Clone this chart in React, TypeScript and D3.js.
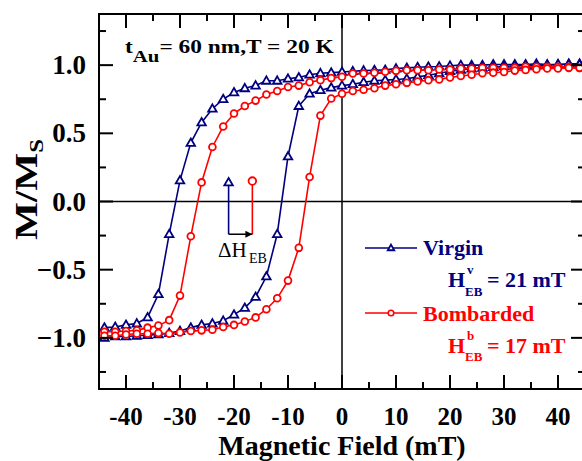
import * as d3 from "d3";
import React from "react";

// magnetic field values (mT), one point every 2 mT
const field = [-44, -42, -40, -38, -36, -34, -32, -30, -28, -26, -24, -22, -20, -18, -16, -14, -12, -10, -8, -6, -4, -2,
  0, 2, 4, 6, 8, 10, 12, 14, 16, 18, 20, 22, 24, 26, 28, 30, 32, 34, 36, 38, 40, 42, 44];

// virgin sample, descending branch (upper)
const virginDown = [-0.925, -0.92, -0.905, -0.895, -0.85, -0.68, -0.24, 0.155, 0.43, 0.58, 0.68, 0.75, 0.8, 0.83, 0.85,
  0.885, 0.885, 0.9, 0.91, 0.93, 0.94, 0.945, 0.95, 0.955, 0.96, 0.963, 0.965, 0.975, 0.98, 0.985, 0.988, 0.99, 0.995,
  1.0, 1.0, 1.0, 1.005, 1.005, 1.005, 1.005, 1.01, 1.005, 1.005, 1.01, 1.01];
// virgin sample, ascending branch (lower)
const virginUp = [-1.0, -0.99, -0.99, -0.985, -0.98, -0.975, -0.965, -0.95, -0.925, -0.905, -0.895, -0.875, -0.83, -0.78,
  -0.7, -0.55, -0.24, 0.33, 0.7, 0.79, 0.816, 0.835, 0.85, 0.86, 0.875, 0.885, 0.89, 0.895, 0.9, 0.914, 0.926, 0.94,
  0.955, 0.965, 0.975, 0.98, 0.985, 0.99, 0.995, 1.0, 1.0, 1.0, 1.005, 1.005, 1.005];
// bombarded sample, descending branch (upper)
const bombDown = [-0.955, -0.955, -0.95, -0.945, -0.925, -0.91, -0.87, -0.69, -0.255, 0.14, 0.4, 0.55, 0.645, 0.7, 0.74,
  0.785, 0.81, 0.84, 0.85, 0.875, 0.89, 0.905, 0.915, 0.939, 0.939, 0.944, 0.951, 0.958, 0.963, 0.963, 0.963, 0.968,
  0.968, 0.975, 0.975, 0.98, 0.98, 0.98, 0.98, 0.988, 0.988, 0.988, 0.988, 0.988, 0.98];
// bombarded sample, ascending branch (lower)
const bombUp = [-0.985, -0.985, -0.975, -0.97, -0.97, -0.965, -0.97, -0.96, -0.95, -0.945, -0.94, -0.92, -0.905, -0.88,
  -0.85, -0.79, -0.71, -0.58, -0.34, 0.18, 0.63, 0.755, 0.79, 0.81, 0.82, 0.83, 0.85, 0.86, 0.87, 0.88, 0.89, 0.895,
  0.91, 0.92, 0.93, 0.94, 0.945, 0.95, 0.96, 0.965, 0.97, 0.975, 0.975, 0.98, 0.98];

const xTicks = [-40, -30, -20, -10, 0, 10, 20, 30, 40];
const xMinor = [-35, -25, -15, -5, 5, 15, 25, 35];
const yTicks = [-1.0, -0.5, 0.0, 0.5, 1.0];
const yMinor = [-1.25, -0.75, -0.25, 0.25, 0.75, 1.25];

// exchange bias markers (field, M)
const ebVirgin = [-21, 0.14];
const ebBomb = [-16.6, 0.15];
const ebArrowY = -0.24;

const NAVY = "#000080";
const RED = "#ff0000";
const FONT = "'Liberation Serif', 'Times New Roman', serif";

const W = 582, H = 461;
const area = { left: 99, right: 585, top: 14, bottom: 389 };

function Triangle({ x, y, s, stroke }: { x: number; y: number; s: number; stroke: string }) {
  const h = s * 0.866;
  const d = `M${x},${y - h * 0.6}L${x + s / 2},${y + h * 0.4}L${x - s / 2},${y + h * 0.4}Z`;
  return <path d={d} fill="white" stroke={stroke} strokeWidth={1.8} strokeLinejoin="miter" />;
}

export default function App() {
  const scX = d3.scaleLinear().domain([-45, 45]).range([area.left, area.right]);
  const scY = d3.scaleLinear().domain([-1.375, 1.375]).range([area.bottom, area.top]);

  const line = d3.line<number>()
    .x((_, i) => scX(field[i]))
    .y(d => scY(d));

  const series = [
    { data: virginDown, color: NAVY, mark: "tri" },
    { data: virginUp, color: NAVY, mark: "tri" },
    { data: bombDown, color: RED, mark: "circ" },
    { data: bombUp, color: RED, mark: "circ" },
  ];

  const tickLong = 14, tickShort = 7;

  return (
    <svg width={W} height={H} style={{ position: "absolute", left: 0, top: 0, background: "white" }}
      fontFamily={FONT}>
      <defs>
        <marker id="arrowHead" viewBox="0 0 10 10" refX="10" refY="5" markerWidth="9" markerHeight="7"
          markerUnits="userSpaceOnUse" orient="auto">
          <path d="M0,0L10,5L0,10Z" fill="black" />
        </marker>
      </defs>

      {/* zero lines */}
      <line x1={area.left} x2={area.right} y1={scY(0)} y2={scY(0)} stroke="black" strokeWidth={1.5} />
      <line x1={scX(0)} x2={scX(0)} y1={area.top} y2={area.bottom} stroke="black" strokeWidth={1.5} />

      {/* curves */}
      {series.map((s, k) => (
        <g key={k}>
          <path d={line(s.data) || ""} fill="none" stroke={s.color} strokeWidth={1.6} />
          {s.data.map((v, i) =>
            s.mark === "tri"
              ? <Triangle key={i} x={scX(field[i])} y={scY(v)} s={8.5} stroke={s.color} />
              : <circle key={i} cx={scX(field[i])} cy={scY(v)} r={3.4} fill="white" stroke={s.color} strokeWidth={1.8} />
          )}
        </g>
      ))}

      {/* exchange bias annotation */}
      <line x1={scX(ebVirgin[0])} x2={scX(ebVirgin[0])} y1={scY(ebVirgin[1])} y2={scY(ebArrowY)} stroke={NAVY} strokeWidth={1.6} />
      <line x1={scX(ebBomb[0])} x2={scX(ebBomb[0])} y1={scY(ebBomb[1])} y2={scY(ebArrowY)} stroke={RED} strokeWidth={1.6} />
      <line x1={scX(ebVirgin[0])} x2={scX(ebBomb[0])} y1={scY(ebArrowY)} y2={scY(ebArrowY)} stroke="black" strokeWidth={1.5}
        markerEnd="url(#arrowHead)" />
      <Triangle x={scX(ebVirgin[0])} y={scY(ebVirgin[1])} s={8.5} stroke={NAVY} />
      <circle cx={scX(ebBomb[0])} cy={scY(ebBomb[1])} r={3.8} fill="white" stroke={RED} strokeWidth={1.8} />
      <text x={218} y={257} fontSize={21}>ΔH</text>
      <text x={249} y={263} fontSize={14}>EB</text>

      {/* frame */}
      <rect x={area.left} y={area.top} width={area.right - area.left} height={area.bottom - area.top}
        fill="none" stroke="black" strokeWidth={2} />

      {/* x ticks */}
      {xTicks.concat(xMinor).map((t, i) => {
        const len = xTicks.includes(t) ? tickLong : tickShort;
        return (
          <g key={"xt" + i}>
            <line x1={scX(t)} x2={scX(t)} y1={area.bottom} y2={area.bottom - len} stroke="black" strokeWidth={2} />
            <line x1={scX(t)} x2={scX(t)} y1={area.top} y2={area.top + len} stroke="black" strokeWidth={2} />
          </g>
        );
      })}
      {yTicks.concat(yMinor).map((t, i) => {
        const len = yTicks.includes(t) ? tickLong : tickShort;
        return (
          <g key={"yt" + i}>
            <line x1={area.left} x2={area.left + len} y1={scY(t)} y2={scY(t)} stroke="black" strokeWidth={2} />
            <line x1={area.right} x2={area.right - len} y1={scY(t)} y2={scY(t)} stroke="black" strokeWidth={2} />
          </g>
        );
      })}

      {/* tick labels */}
      {xTicks.map(t => (
        <text key={"xl" + t} x={scX(t)} y={425} textAnchor="middle" fontSize={25} fontWeight="bold">{t}</text>
      ))}
      {yTicks.map(t => (
        <text key={"yl" + t} x={86} y={scY(t) + 9} textAnchor="end" fontSize={27} fontWeight="bold">
          {d3.format(".1f")(t)}
        </text>
      ))}

      {/* axis titles */}
      <text x={342} y={454.5} textAnchor="middle" fontSize={28} fontWeight="bold">Magnetic Field (mT)</text>
      <text transform="translate(37,240) rotate(-90) scale(1.3,1)" fontSize={31} fontWeight="bold">
        M/M<tspan fontSize={19} dy={6}>S</tspan>
      </text>

      {/* sample annotation */}
      <text transform="translate(125,53) scale(1.3,1)" fontSize={18} fontWeight="bold">
        t<tspan fontSize={16} dy={9}>Au</tspan><tspan dy={-9}>= 60 nm,T = 20 K</tspan>
      </text>

      {/* legend */}
      <line x1={365} x2={417} y1={248} y2={248} stroke={NAVY} strokeWidth={1.6} />
      <Triangle x={391} y={248} s={6.5} stroke={NAVY} />
      <g fontWeight="bold" fill={NAVY}>
        <text x={423} y={255} fontSize={22}>Virgin</text>
        <text x={448} y={287} fontSize={22}>H</text>
        <text x={467} y={274} fontSize={13}>v</text>
        <text x={465} y={296} fontSize={13}>EB</text>
        <text x={487} y={287} fontSize={22}>= 21 mT</text>
      </g>
      <line x1={365} x2={417} y1={313} y2={313} stroke={RED} strokeWidth={1.6} />
      <circle cx={391} cy={313} r={2.8} fill="white" stroke={RED} strokeWidth={1.6} />
      <g fontWeight="bold" fill={RED}>
        <text x={423} y={321} fontSize={22}>Bombarded</text>
        <text x={448} y={353} fontSize={22}>H</text>
        <text x={467} y={340} fontSize={13}>b</text>
        <text x={465} y={361} fontSize={13}>EB</text>
        <text x={487} y={353} fontSize={22}>= 17 mT</text>
      </g>
    </svg>
  );
}
